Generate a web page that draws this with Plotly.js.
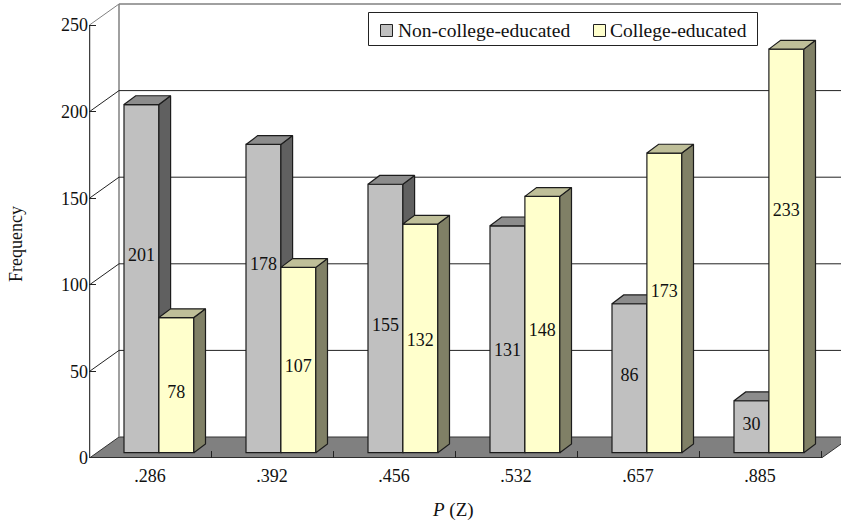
<!DOCTYPE html>
<html>
<head>
<meta charset="utf-8">
<script src="https://cdn.plot.ly/plotly-3.0.1.min.js"></script>
<style>html,body{margin:0;padding:0;background:#fff}</style>
</head>
<body>
<div id="chart" style="width:841px;height:525px"></div>
<script>
// Frequencies per P(Z) group
const categories = ['.286', '.392', '.456', '.532', '.657', '.885'];
const nonCollege = [201, 178, 155, 131, 86, 30];
const college = [78, 107, 132, 148, 173, 233];
const valueTicks = [0, 50, 100, 150, 200, 250];

// Heights, in frequency units, at which the value labels sit on the columns
const nonCollegeLabelLevels = [116.6, 110.9, 76.2, 61.7, 46.8, 18.5];
const collegeLabelLevels = [37.5, 52.5, 67.5, 73.3, 95.7, 142.6];

// Pretend-3D geometry, in axis units
const W = 841, H = 525, LEFT = 89, BOTTOM = 67;
const PX_PER_CAT = 122, PX_PER_UNIT = 1.732;
const xMax = (W - LEFT) / PX_PER_CAT;
const yMax = (H - BOTTOM) / PX_PER_UNIT;
const wallDx = 29.5 / PX_PER_CAT, wallDy = 21 / PX_PER_UNIT;
const barDx = 11.7 / PX_PER_CAT, barDy = 8.8 / PX_PER_UNIT;
const barBase = 5.3 / PX_PER_UNIT;
const barW = 34.9 / PX_PER_CAT;
const xAxis0 = 0.5 / PX_PER_CAT;      // axis sits half a pixel into the plot
const nonCollegeOffset = 35 / PX_PER_CAT;
const collegeOffset = nonCollegeOffset + barW;

const ink = '#1c1c1c';
const font = 'Liberation Serif, Times New Roman, serif';
const centers = categories.map((_, i) => i + 0.5);

// Side and top faces of a row of columns, as null-separated polygons
function sideFace(values, offset) {
  const xs = [], ys = [];
  values.forEach((v, i) => {
    const a = i + offset + barW, t = barBase + v;
    xs.push(a, a + barDx, a + barDx, a, a, null);
    ys.push(t, t + barDy, barBase + barDy, barBase, t, null);
  });
  return { x: xs, y: ys };
}
function topFace(values, offset) {
  const xs = [], ys = [];
  values.forEach((v, i) => {
    const a = i + offset, t = barBase + v;
    xs.push(a, a + barW, a + barW + barDx, a + barDx, a, null);
    ys.push(t, t, t + barDy, t + barDy, t, null);
  });
  return { x: xs, y: ys };
}
function face(poly, fill, axes) {
  return {
    type: 'scatter', mode: 'lines', x: poly.x, y: poly.y, fill: 'toself', fillcolor: fill,
    line: { color: ink, width: 1.2 }, hoverinfo: 'skip', showlegend: false,
    connectgaps: false, xaxis: axes[0], yaxis: axes[1]
  };
}
function columns(name, values, offset, fill, axes) {
  return {
    type: 'bar', name, x: centers, y: values, base: barBase,
    width: barW, offset: offset - 0.5,
    marker: { color: fill, line: { color: ink, width: 1.2 } },
    showlegend: false, xaxis: axes[0], yaxis: axes[1]
  };
}
function valueLabels(values, levels, offset, axes) {
  return {
    type: 'scatter', mode: 'text', x: values.map((_, i) => i + offset + barW / 2), y: levels,
    text: values.map(String), textposition: 'middle center',
    textfont: { family: font, size: 18, color: '#111' },
    hoverinfo: 'skip', showlegend: false, xaxis: axes[0], yaxis: axes[1]
  };
}

const lower = ['x', 'y'], upper = ['x2', 'y2'];
const traces = [
  columns('Non-college-educated', nonCollege, nonCollegeOffset, '#C0C0C0', lower),
  face(sideFace(nonCollege, nonCollegeOffset), '#606060', lower),
  face(topFace(nonCollege, nonCollegeOffset), '#8C8C8C', lower),
  valueLabels(nonCollege, nonCollegeLabelLevels, nonCollegeOffset, lower),
  columns('College-educated', college, collegeOffset, '#FFFFCC', upper),
  face(sideFace(college, collegeOffset), '#808066', upper),
  face(topFace(college, collegeOffset), '#BFBF99', upper),
  valueLabels(college, collegeLabelLevels, collegeOffset, upper)
];

// Walls, floor and gridlines
const shapes = [];
const line = (x0, y0, x1, y1, color, width) => shapes.push({
  type: 'line', xref: 'x', yref: 'y', layer: 'below', x0, y0, x1, y1,
  line: { color, width }
});
const floorPath = `M${xAxis0},0 L${xAxis0 + wallDx},${wallDy} L${xMax + 1},${wallDy} L${categories.length + xAxis0 + wallDx},${wallDy} L${categories.length + xAxis0},0 Z`;
shapes.push({
  type: 'path', xref: 'x', yref: 'y', layer: 'below', path: floorPath,
  fillcolor: '#808080', line: { color: '#333', width: 1 }
});
line(xAxis0 + wallDx, wallDy, xAxis0 + wallDx, valueTicks[5] + wallDy, '#808080', 1.5);
valueTicks.slice(1).forEach(t => {
  const isTop = t === valueTicks[valueTicks.length - 1];
  const colour = isTop ? '#808080' : '#222';
  line(xAxis0, t, xAxis0 + wallDx, t + wallDy, isTop ? '#808080' : '#222', 1);
  line(xAxis0 + wallDx, t + wallDy, xMax, t + wallDy, colour, isTop ? 1.5 : 1);
});
line(xAxis0, 0, xAxis0, valueTicks[5], '#404040', 1.5);
line(xAxis0, 0, categories.length + xAxis0, 0, '#222', 1.5);
for (let i = 1; i <= categories.length; i++) line(i + xAxis0, 0, i + xAxis0, 4, '#222', 1);

// Key and axis captions placed in pixel terms, converted to paper coordinates
const px = v => (v - LEFT) / (W - LEFT);
const py = v => (H - BOTTOM - v) / (H - BOTTOM);
const keyRect = (x0, y0, x1, y1, fill, color) => ({
  type: 'rect', xref: 'paper', yref: 'paper', layer: 'above',
  x0: px(x0), x1: px(x1), y0: py(y0), y1: py(y1),
  fillcolor: fill, line: { color, width: 1 }
});
shapes.push(keyRect(368.5, 12.5, 757.5, 45.5, '#fff', '#222'));
shapes.push(keyRect(380.5, 24.5, 392.5, 36.5, '#C0C0C0', '#222'));
shapes.push(keyRect(593.5, 24.5, 605.5, 36.5, '#FFFFCC', '#222'));
const keyText = (x, text) => ({
  xref: 'paper', yref: 'paper', x: px(x), y: py(30), text, showarrow: false,
  xanchor: 'left', yanchor: 'middle', font: { family: font, size: 19.5, color: '#111' }
});
const caption = (x, y, text, size, textangle) => ({
  xref: 'paper', yref: 'paper', x: px(x), y: py(y), text, showarrow: false, textangle,
  xanchor: 'center', yanchor: 'middle', font: { family: font, size, color: '#111' }
});

const layout = {
  width: W, height: H, showlegend: false, barmode: 'overlay',
  paper_bgcolor: '#fff', plot_bgcolor: '#fff',
  margin: { l: LEFT, r: 0, t: 0, b: BOTTOM, pad: 0 },
  font: { family: font, size: 18, color: '#111' },
  xaxis: {
    range: [0, xMax], tickmode: 'array', tickvals: centers, ticktext: categories,
    ticks: '', showgrid: false, zeroline: false, showline: false, ticklabelstandoff: 5
  },
  yaxis: {
    range: [0, yMax], tickmode: 'array', tickvals: valueTicks, ticks: 'inside', ticklen: 7,
    tickcolor: '#222', tickwidth: 1, showgrid: false, zeroline: false, showline: false
  },
  xaxis2: { range: [0, xMax], overlaying: 'x', visible: false },
  yaxis2: { range: [0, yMax], overlaying: 'y', visible: false },
  shapes,
  annotations: [
    keyText(396, 'Non-college-educated'),
    keyText(608, 'College-educated'),
    caption(453, 510, '<i>P</i> (Z)', 19, 0),
    caption(16, 244, 'Frequency', 18, -90)
  ]
};

Plotly.newPlot('chart', traces, layout, { displayModeBar: false, staticPlot: true });
</script>
</body>
</html>
